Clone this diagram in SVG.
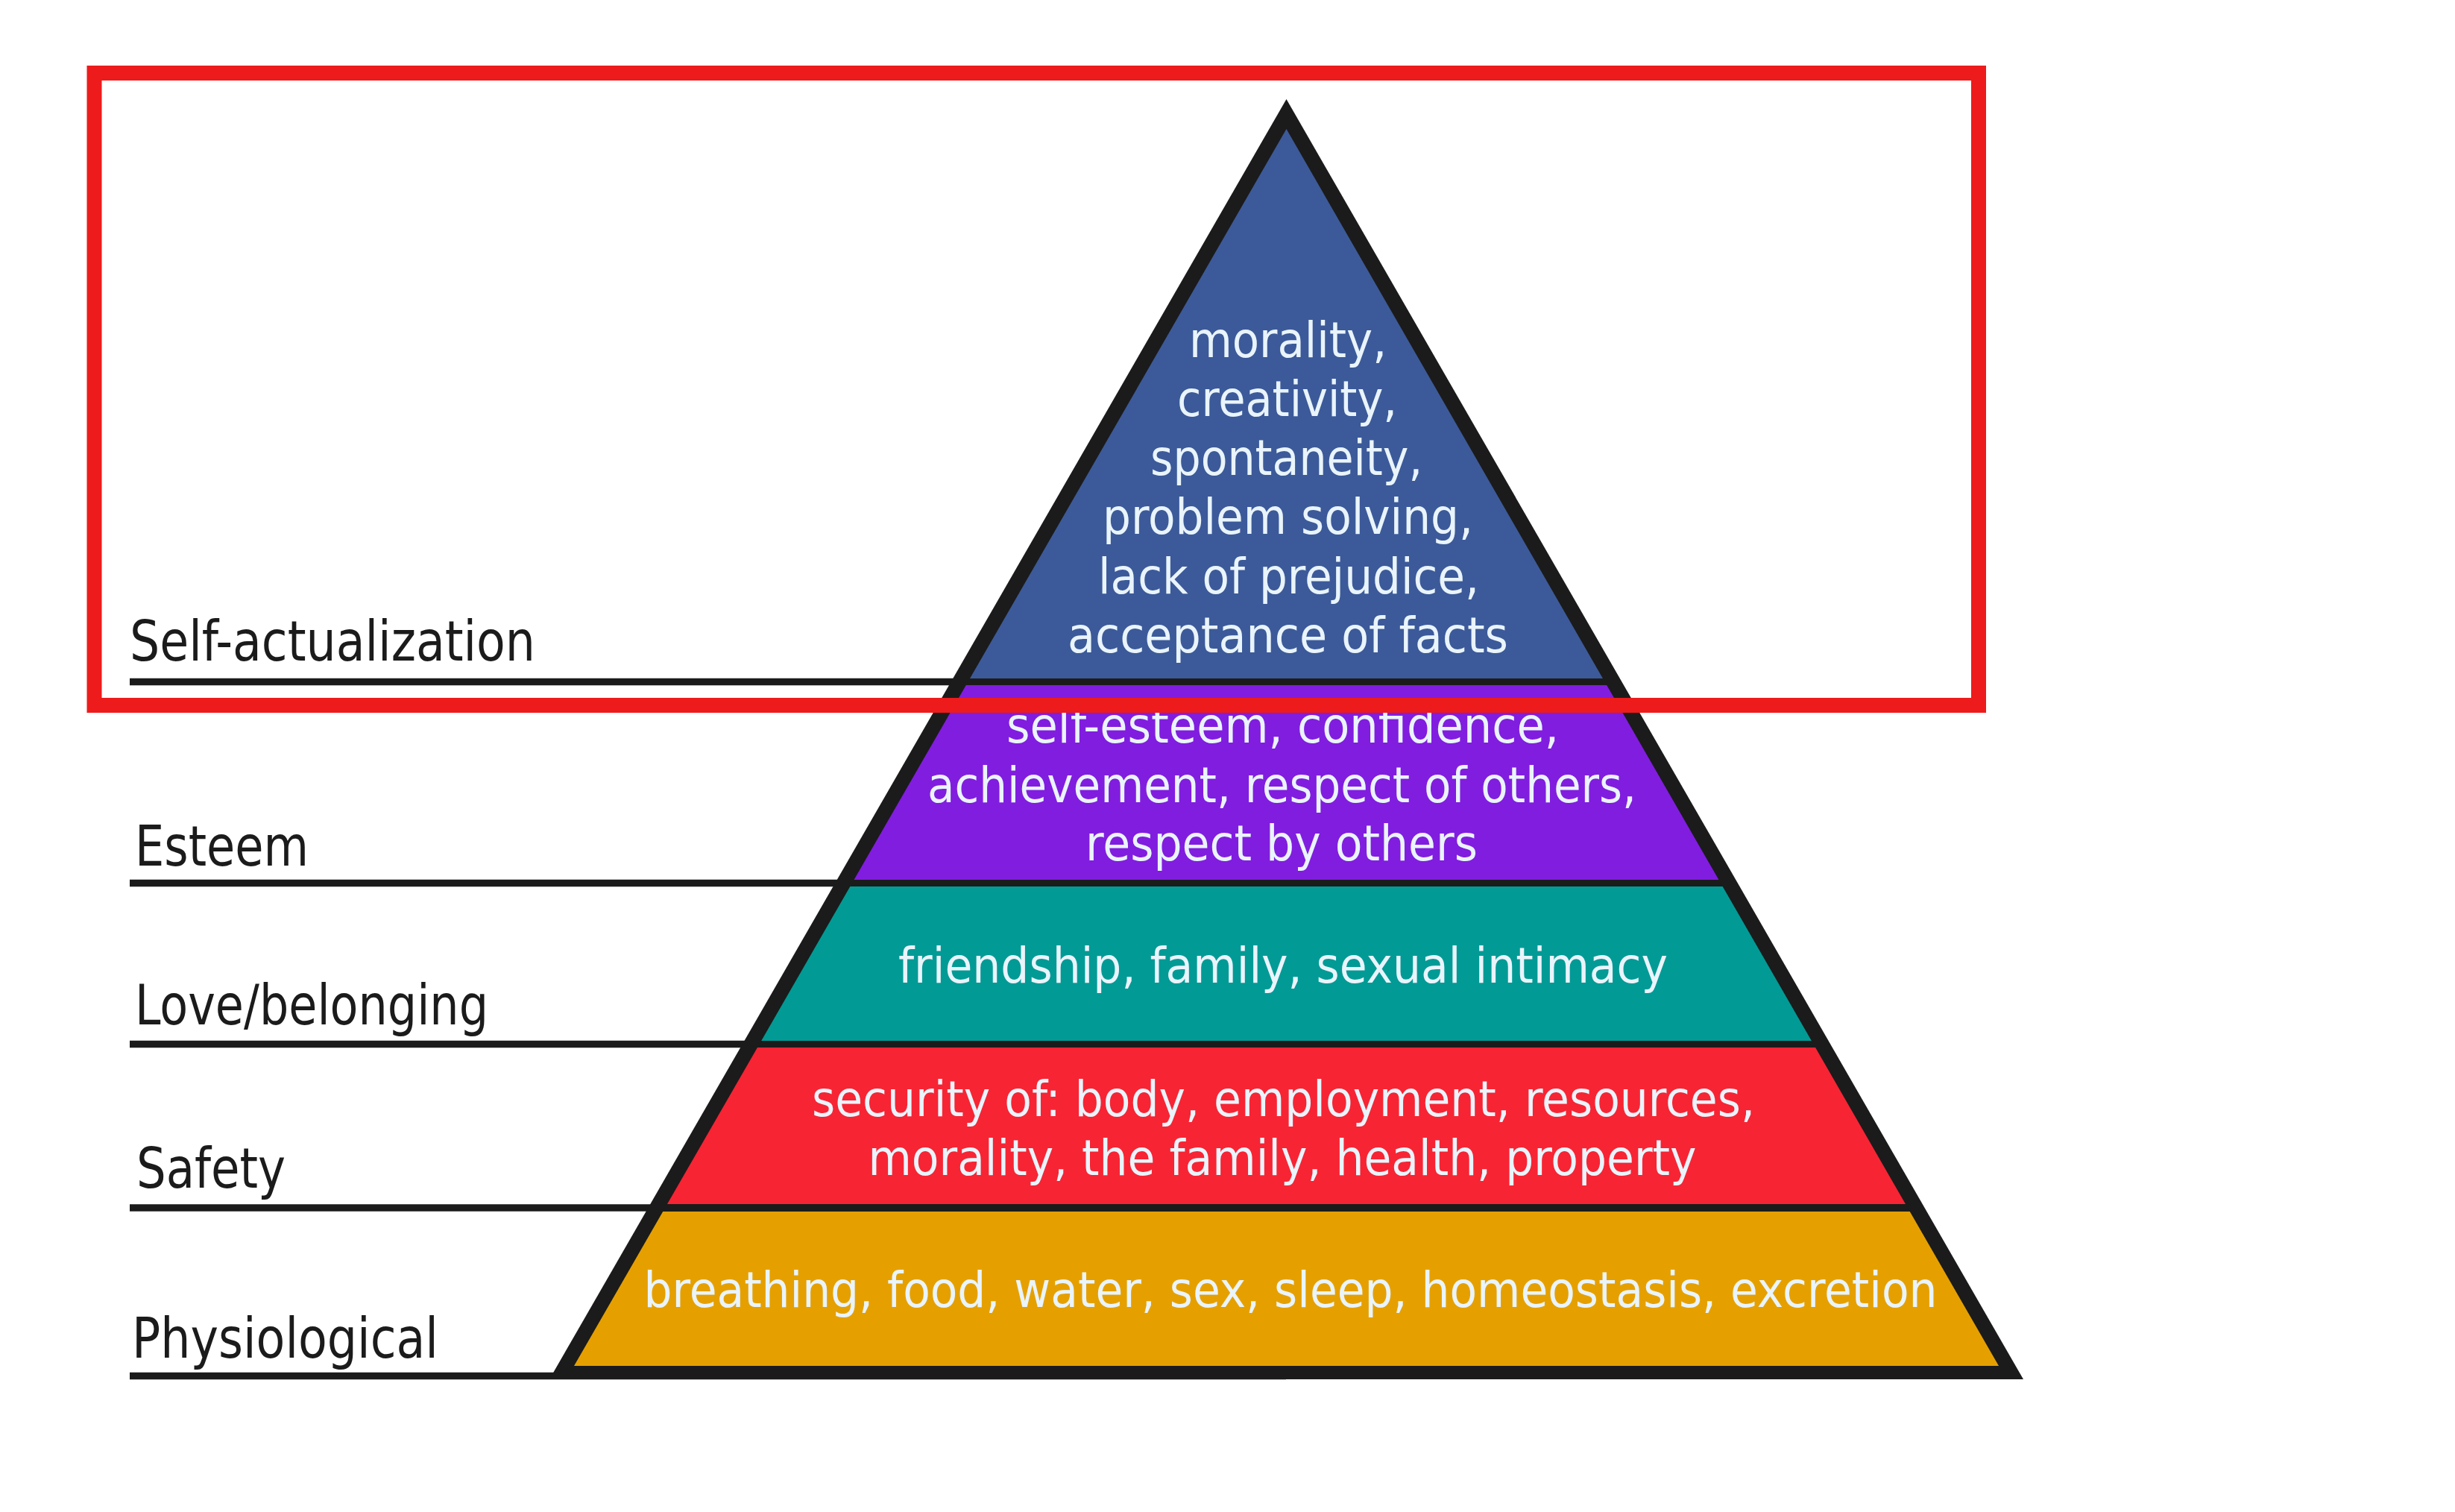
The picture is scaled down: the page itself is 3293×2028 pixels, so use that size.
<svg xmlns="http://www.w3.org/2000/svg" width="3293" height="2028" viewBox="0 0 3293 2028">
<style>
.bt{font-family:'DejaVu Sans Condensed','DejaVu Sans',sans-serif;font-stretch:condensed;font-size:66px;fill:#e9f4fb}
.lb{font-family:'DejaVu Sans Condensed','DejaVu Sans',sans-serif;font-stretch:condensed;font-size:75px;fill:#1b1b1b}
.lead{stroke:#1b1b1b;stroke-width:9.5;fill:none}
</style>
<defs>
<clipPath id="inner"><polygon points="1725.5,173 2681,1832 770,1832"/></clipPath>
</defs>
<rect width="3293" height="2028" fill="#ffffff"/>
<g id="connectors">
<line class="lead" x1="174" y1="914.5" x2="1725" y2="914.5"/>
<line class="lead" x1="174" y1="1184.5" x2="1725" y2="1184.5"/>
<line class="lead" x1="174" y1="1400.5" x2="1725" y2="1400.5"/>
<line class="lead" x1="174" y1="1620" x2="1725" y2="1620"/>
<line class="lead" x1="174" y1="1845.5" x2="1725" y2="1845.5"/>
</g>
<g id="pyramid-outline">
<polygon points="737,1850 1725.5,133 2714,1850" fill="#1b1b1b"/>
</g>
<g id="self-actualization-band">
<rect x="700" y="140" width="2050" height="770" fill="#3c5a99" clip-path="url(#inner)"/>
<text class="bt" x="1595" y="479" textLength="265" lengthAdjust="spacingAndGlyphs">morality,</text>
<text class="bt" x="1579" y="557.5" textLength="295" lengthAdjust="spacingAndGlyphs">creativity,</text>
<text class="bt" x="1543" y="637" textLength="365" lengthAdjust="spacingAndGlyphs">spontaneity,</text>
<text class="bt" x="1479" y="716" textLength="497" lengthAdjust="spacingAndGlyphs">problem solving,</text>
<text class="bt" x="1473" y="795.5" textLength="511" lengthAdjust="spacingAndGlyphs">lack of prejudice,</text>
<text class="bt" x="1432" y="874.5" textLength="591" lengthAdjust="spacingAndGlyphs">acceptance of facts</text>
</g>
<g id="esteem-band">
<rect x="700" y="919" width="2050" height="261" fill="#811ddf" clip-path="url(#inner)"/>
<text class="bt" x="1350" y="996" textLength="741" lengthAdjust="spacingAndGlyphs">self-esteem, confidence,</text>
<text class="bt" x="1244" y="1075.5" textLength="951" lengthAdjust="spacingAndGlyphs">achievement, respect of others,</text>
<text class="bt" x="1456" y="1154" textLength="526" lengthAdjust="spacingAndGlyphs">respect by others</text>
</g>
<g id="love-band">
<rect x="700" y="1189" width="2050" height="207" fill="#029a95" clip-path="url(#inner)"/>
<text class="bt" x="1205" y="1318" textLength="1032" lengthAdjust="spacingAndGlyphs">friendship, family, sexual intimacy</text>
</g>
<g id="safety-band">
<rect x="700" y="1405" width="2050" height="210" fill="#f72434" clip-path="url(#inner)"/>
<text class="bt" x="1089" y="1496.5" textLength="1265" lengthAdjust="spacingAndGlyphs">security of: body, employment, resources,</text>
<text class="bt" x="1164.5" y="1575.5" textLength="1111" lengthAdjust="spacingAndGlyphs">morality, the family, health, property</text>
</g>
<g id="physiological-band">
<rect x="700" y="1625" width="2050" height="207" fill="#e5a000" clip-path="url(#inner)"/>
<text class="bt" x="863.5" y="1753" textLength="1735" lengthAdjust="spacingAndGlyphs">breathing, food, water, sex, sleep, homeostasis, excretion</text>
</g>
<g id="label-self-actualization"><text class="lb" x="174" y="885.5" textLength="544" lengthAdjust="spacingAndGlyphs">Self-actualization</text></g>
<g id="label-esteem"><text class="lb" x="181" y="1161" textLength="233" lengthAdjust="spacingAndGlyphs">Esteem</text></g>
<g id="label-love"><text class="lb" x="181" y="1374" textLength="474" lengthAdjust="spacingAndGlyphs">Love/belonging</text></g>
<g id="label-safety"><text class="lb" x="183" y="1593" textLength="200" lengthAdjust="spacingAndGlyphs">Safety</text></g>
<g id="label-physiological"><text class="lb" x="177" y="1821" textLength="411" lengthAdjust="spacingAndGlyphs">Physiological</text></g>
<g id="highlight-box">
<rect x="126.5" y="98" width="2527.5" height="848" fill="none" stroke="#ed1b1b" stroke-width="20"/>
</g>
</svg>
